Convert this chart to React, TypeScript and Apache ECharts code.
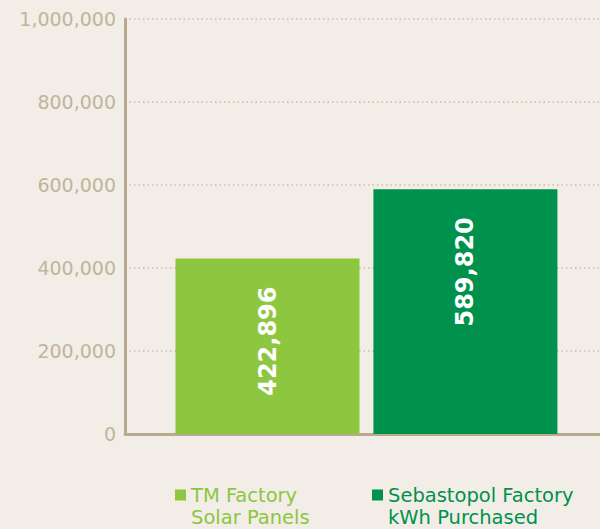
import React, { useEffect, useRef } from "react";
import * as echarts from "echarts";

const seriesNames = ["TM Factory\nSolar Panels", "Sebastopol Factory\nkWh Purchased"];
const seriesSlots = [1, 2];
const seriesValues = [422896, 589820];
const seriesColors = ["#8dc63f", "#00914c"];
const yTicks = { min: 0, max: 1000000, interval: 200000 };
const xRange = { min: 0.28, max: 2.68 };

export default function App() {
  const ref = useRef<HTMLDivElement>(null);
  useEffect(() => {
    if (!ref.current) return;
    const chart = echarts.init(ref.current, undefined, { renderer: "svg" });
    const font = "'DejaVu Sans', sans-serif";
    chart.setOption({
      animation: false,
      backgroundColor: "#f2eee7",
      textStyle: { fontFamily: font },
      grid: { left: 125, right: 0, top: 19, bottom: 95, containLabel: false },
      legend: seriesNames.map((n, i) => ({
        left: i === 0 ? 175 : 372,
        top: 462,
        icon: "rect",
        itemWidth: 11,
        itemHeight: 11,
        itemGap: 0,
        padding: 0,
        selectedMode: false,
        data: [{ name: n, textStyle: { color: seriesColors[i] } }],
        formatter: (name: string) => " \n" + name,
        textStyle: {
          fontFamily: font,
          fontSize: 19.5,
          lineHeight: 22,
        },
      })),
      xAxis: {
        type: "value",
        min: xRange.min,
        max: xRange.max,
        axisLine: { show: true, onZero: false, lineStyle: { color: "#b8aa90", width: 3 } },
        axisTick: { show: false },
        axisLabel: { show: false },
        splitLine: { show: false },
      },
      yAxis: {
        type: "value",
        min: yTicks.min,
        max: yTicks.max,
        interval: yTicks.interval,
        axisLine: { show: true, onZero: false, lineStyle: { color: "#b8aa90", width: 3 } },
        axisTick: { show: false },
        splitLine: { lineStyle: { color: "#c9bea8", type: [1.5, 3], width: 1.5 } },
        axisLabel: {
          color: "#c0b49b",
          fontSize: 19,
          margin: 9,
          fontFamily: font,
          formatter: (v: number) => v.toLocaleString("en-US"),
        },
      },
      series: seriesNames.map((n, i) => ({
        type: "bar",
        name: n,
        data: [[seriesSlots[i], seriesValues[i]]],
        barWidth: 184,
        barGap: "-100%",
        itemStyle: { color: seriesColors[i] },
        label: {
          show: true,
          position: ["50%", 28],
          rotate: 90,
          align: "right",
          verticalAlign: "middle",
          color: "#ffffff",
          fontWeight: "bold",
          fontSize: 24,
          fontFamily: font,
          formatter: (p: any) => Number(p.value[1]).toLocaleString("en-US"),
        },
      })),
    });
    return () => chart.dispose();
  }, []);
  return <div ref={ref} style={{ width: 600, height: 529, position: "absolute", left: 0, top: 0 }} />;
}
